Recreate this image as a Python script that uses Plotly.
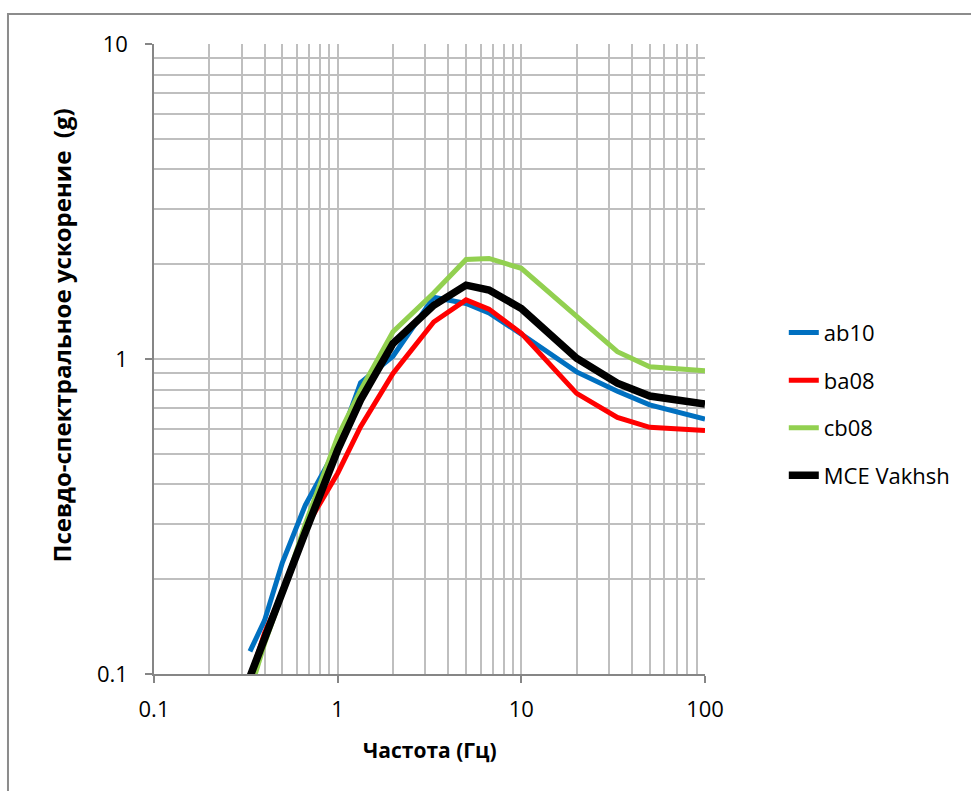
import plotly.graph_objects as go

# Frequency points (Hz) of the response spectra
freq = [0.333, 0.4, 0.5, 0.667, 1.0, 1.333, 2.0, 3.333, 5.0, 6.667, 10.0, 20.0, 33.33, 50.0, 100.0]

# Pseudo-spectral acceleration (g) for each model
ab10 = [0.118, 0.148, 0.226, 0.344, 0.53, 0.84, 1.02, 1.57, 1.50, 1.40, 1.20, 0.91, 0.79, 0.715, 0.645]
ba08 = [0.097, 0.135, 0.181, 0.29, 0.434, 0.61, 0.90, 1.31, 1.54, 1.44, 1.206, 0.778, 0.652, 0.607, 0.593]
cb08 = [0.088, 0.125, 0.18, 0.30, 0.567, 0.797, 1.22, 1.62, 2.07, 2.085, 1.94, 1.36, 1.055, 0.945, 0.918]
mce_vakhsh = [0.098, 0.13, 0.184, 0.282, 0.514, 0.741, 1.12, 1.48, 1.716, 1.655, 1.447, 1.005, 0.838, 0.763, 0.72]

series_names = ["ab10", "ba08", "cb08", "MCE Vakhsh"]
series_values = [ab10, ba08, cb08, mce_vakhsh]
series_colors = ["#0070C0", "#FF0000", "#92D050", "#000000"]
series_widths = [5, 5, 5, 7.5]

x_ticks = [0.1, 1, 10, 100]
x_ticktext = ["0.1", "1", "10", "100"]
y_ticks = [0.1, 1, 10]
y_ticktext = ["0.1", "1", "10"]

# minor gridline positions (2..9 within each decade)
x_minor = [m * d for d in (0.1, 1, 10) for m in range(2, 10)]
y_minor = [m * d for d in (0.1, 1) for m in range(2, 10)]

FONT = "Open Sans"
GRID = "#BFBFBF"
AXIS = "#868686"

fig = go.Figure()
for name, vals, color, width in zip(series_names, series_values, series_colors, series_widths):
    fig.add_trace(go.Scatter(
        x=freq, y=vals, name=name, mode="lines", legendgroup=name,
        line=dict(color=color, width=width),
    ))

fig.update_layout(
    width=971, height=791,
    margin=dict(l=154, r=266, t=44, b=117),
    paper_bgcolor="white", plot_bgcolor="white",
    font=dict(family=FONT, size=22, color="#000000"),
    showlegend=True,
    legend=dict(
        x=1.143, y=0.575, xanchor="left", yanchor="top",
        font=dict(family=FONT, size=22, color="#000000"),
        tracegroupgap=16, bgcolor="rgba(0,0,0,0)",
    ),
    xaxis=dict(
        type="log", range=[-1, 2],
        tickvals=x_ticks, ticktext=x_ticktext,
        ticks="outside", ticklen=7, tickcolor=AXIS, tickwidth=1.5,
        ticklabelstandoff=8,
        showgrid=True, gridcolor=GRID, gridwidth=1.5,
        minor=dict(tickvals=x_minor, showgrid=True, gridcolor=GRID, gridwidth=1.5, ticks=""),
        showline=True, linecolor=AXIS, linewidth=1.5,
        zeroline=False, tickfont=dict(size=22),
    ),
    yaxis=dict(
        type="log", range=[-1, 1],
        tickvals=y_ticks, ticktext=y_ticktext,
        ticks="outside", ticklen=7, tickcolor=AXIS, tickwidth=1.5,
        ticklabelstandoff=13,
        showgrid=True, gridcolor=GRID, gridwidth=1.5,
        minor=dict(tickvals=y_minor, showgrid=True, gridcolor=GRID, gridwidth=1.5, ticks=""),
        showline=True, linecolor=AXIS, linewidth=1.5,
        zeroline=False, tickfont=dict(size=22),
    ),
    annotations=[
        dict(text="<b>Частота (Гц)</b>", xref="paper", yref="paper",
             x=0.5, y=-0.121, xanchor="center", yanchor="middle",
             showarrow=False, font=dict(family=FONT, size=21)),
        dict(text="<b>Псевдо-спектральное ускорение  (g)</b>", xref="paper", yref="paper",
             x=-0.168, y=0.538, xanchor="center", yanchor="middle", textangle=-90,
             showarrow=False, font=dict(family=FONT, size=24)),
    ],
    shapes=[
        # outer chart frame
        dict(type="rect", xref="paper", yref="paper",
             x0=-0.265, x1=1.6, y0=-0.3, y1=1.0475,
             line=dict(color="#8C8C8C", width=2), fillcolor="rgba(0,0,0,0)", layer="below"),
    ],
)

fig.write_html("out.html")
